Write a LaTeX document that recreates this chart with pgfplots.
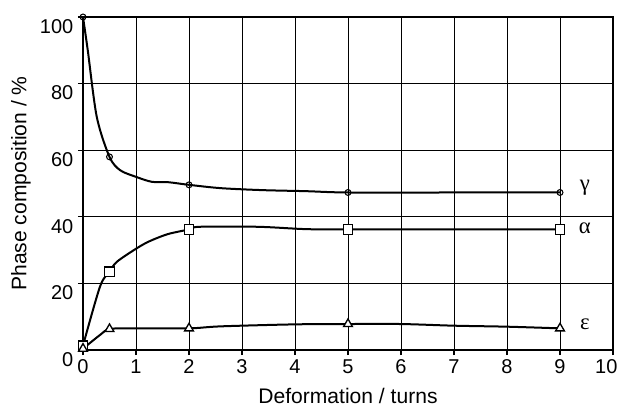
\documentclass[border=0pt]{standalone}
\usepackage{pgfplots}
\pgfplotsset{compat=1.18}
\usepackage{fontspec}
\setmainfont{Liberation Sans}
\newfontfamily\greekfont{Liberation Serif}

\begin{document}
\begin{tikzpicture}
\begin{axis}[
  name=ax,
  scale only axis,
  width=397.5pt, height=249.75pt,
  xmin=0, xmax=10, ymin=0, ymax=100,
  xtick={0,1,...,9}, ytick={0,20,...,100},
  extra x ticks={10},
  extra x tick style={xticklabel style={xshift=-5pt}},
  grid=major,
  major grid style={black, line width=0.7pt},
  axis line style={black, line width=1.2pt},
  tick align=outside, tick pos=left,
  major tick length=3.75pt,
  tick style={black, line width=0.8pt},
  /pgf/number format/assume math mode=true,
  ticklabel style={font=\fontsize{15}{18}\selectfont},
  yticklabel style={yshift=-7pt},
  xlabel={Deformation / turns},
  ylabel={Phase composition / \%},
  label style={font=\fontsize{15.8}{19}\selectfont},
  xlabel style={at={(axis description cs:0.5,0)}, anchor=north, yshift=-25pt},
  clip=false,
]
% gamma
\addplot[black, line width=1.5pt, smooth, tension=0.5] coordinates {
  (0,100) (0.09,90) (0.26,70) (0.5,58) (0.7,54) (1.0,52) (1.3,50.5) (1.6,50.4)
  (2,49.6) (2.6,48.6) (3.4,48) (4.2,47.7) (5,47.3) (7,47.3) (9,47.3)};
\addplot[only marks, mark=o, mark size=2.2pt, mark options={fill=white, line width=0.8pt}] coordinates {
  (0,100) (0.5,58) (2,49.6) (5,47.3) (9,47.3)};
% alpha
\addplot[black, line width=1.5pt, smooth, tension=0.5] coordinates {
  (0,1.3) (0.32,19) (0.5,23.5) (0.64,26.5) (1.02,30.6) (1.26,32.7) (1.6,34.8)
  (2,36.2) (2.2,37) (3.3,37) (4.2,36.3) (5,36.2) (7,36.2) (9,36.2)};
\addplot[only marks, mark=square*, mark size=3.6pt, mark options={fill=white, line width=1pt}] coordinates {
  (0,1.3) (0.5,23.5) (2,36.2) (5,36.2) (9,36.2)};
% epsilon
\addplot[black, line width=1.5pt, smooth, tension=0.5] coordinates {
  (0,0.4) (0.32,4.5) (0.5,6.3) (0.95,6.5) (2,6.5) (2.6,7.1) (4,7.7) (5,7.8)
  (6,7.8) (7,7.3) (8,7.0) (9,6.5)};
\addplot[only marks, mark=triangle*, mark size=3.8pt, mark options={fill=white, line width=1pt}] coordinates {
  (0,0.4) (0.5,6.3) (2,6.5) (5,7.8) (9,6.5)};
\node[font=\greekfont\fontsize{17}{20}\selectfont] at (axis cs:9.47,48.6) {γ};
\node[font=\greekfont\fontsize{17}{20}\selectfont] at (axis cs:9.47,36.6) {α};
\node[font=\greekfont\fontsize{17}{20}\selectfont] at (axis cs:9.47,7.6) {ε};
\end{axis}
\pgfresetboundingbox
\path ([xshift=-62.25pt,yshift=-42.75pt]ax.south west) rectangle ([xshift=3.75pt,yshift=12.75pt]ax.north east);
\end{tikzpicture}
\end{document}
